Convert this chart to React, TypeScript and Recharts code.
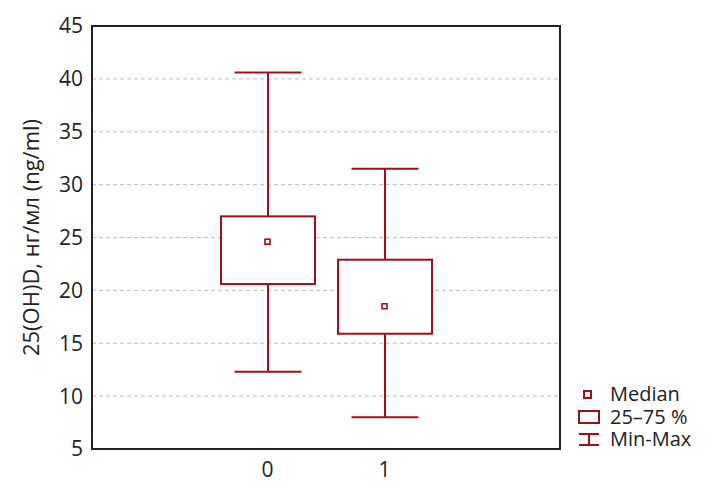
import React from "react";
import {
  ComposedChart,
  Bar,
  Scatter,
  XAxis,
  YAxis,
  CartesianGrid,
  ReferenceArea,
} from "recharts";

// group codes on the x axis
const groups = [0, 1];
// box-plot stats per group
const minValues = [12.3, 8.0];
const q1Values = [20.6, 15.9];
const medianValues = [24.6, 18.5];
const q3Values = [27.0, 22.9];
const maxValues = [40.6, 31.5];

const yTicks = [5, 10, 15, 20, 25, 30, 35, 40, 45];
const xTicks = [0, 1];
const xDomain = [-1.5, 2.5];
const yDomain = [5, 45];

const yLabel = "25(OH)D, нг/мл (ng/ml)";
const legendItems = ["Median", "25–75 %", "Min-Max"];

const RED = "#a0101c";
const FONT = "'Open Sans', sans-serif";

const chartData = groups.map((g, i) => ({
  x: g,
  base: minValues[i],
  lower: q1Values[i] - minValues[i],
  box: q3Values[i] - q1Values[i],
  upper: maxValues[i] - q3Values[i],
  median: medianValues[i],
}));

const CAP = 67;

const LowerWhisker = (props: any) => {
  const { x, y, width, height } = props;
  const cx = x + width / 2;
  return (
    <g>
      <line x1={cx} y1={y} x2={cx} y2={y + height} stroke={RED} strokeWidth={2} />
      <line x1={cx - CAP / 2} y1={y + height} x2={cx + CAP / 2} y2={y + height} stroke={RED} strokeWidth={2} />
    </g>
  );
};

const UpperWhisker = (props: any) => {
  const { x, y, width, height } = props;
  const cx = x + width / 2;
  return (
    <g>
      <line x1={cx} y1={y} x2={cx} y2={y + height} stroke={RED} strokeWidth={2} />
      <line x1={cx - CAP / 2} y1={y} x2={cx + CAP / 2} y2={y} stroke={RED} strokeWidth={2} />
    </g>
  );
};

const BoxShape = (props: any) => {
  const { x, y, width, height } = props;
  return <rect x={x} y={y} width={width} height={height} fill="#fff" stroke={RED} strokeWidth={2} />;
};

const MedianShape = (props: any) => {
  const { cx, cy } = props;
  return <rect x={cx - 2.5} y={cy - 2.5} width={5} height={5} fill="#fff" stroke={RED} strokeWidth={1.6} />;
};

const YLabel = (props: any) => {
  const vb = props.viewBox || {};
  const cy = vb.y + vb.height / 2;
  const cx = 30;
  return (
    <text
      x={cx}
      y={cy}
      transform={`rotate(-90 ${cx} ${cy})`}
      textAnchor="middle"
      dominantBaseline="central"
      fontFamily={FONT}
      fontSize={22}
      fill="#222"
    >
      {yLabel}
    </text>
  );
};

const ChartLegend = () => (
  <div
    style={{
      position: "absolute",
      left: 576,
      top: 383,
      fontFamily: FONT,
      fontSize: 20,
      color: "#222",
    }}
  >
    {legendItems.map((name, i) => (
      <div key={name} style={{ display: "flex", alignItems: "center", height: 22.5 }}>
        <svg width={26} height={22} style={{ marginRight: 8 }}>
          {i === 0 && <rect x={8} y={8} width={7} height={7} fill="#fff" stroke={RED} strokeWidth={2} />}
          {i === 1 && <rect x={3} y={5} width={20} height={12} fill="#fff" stroke={RED} strokeWidth={2} />}
          {i === 2 && (
            <g stroke={RED} strokeWidth={2}>
              <line x1={3} y1={6} x2={23} y2={6} />
              <line x1={13} y1={6} x2={13} y2={17} />
              <line x1={3} y1={17} x2={23} y2={17} />
            </g>
          )}
        </svg>
        <span style={{ lineHeight: 1 }}>{name}</span>
      </div>
    ))}
  </div>
);

export default function App() {
  return (
    <div style={{ position: "absolute", left: 0, top: 0, width: 708, height: 492, background: "#fff" }}>
      <ComposedChart
        width={708}
        height={492}
        data={chartData}
        margin={{ top: 26, right: 148, left: 0, bottom: 0 }}
        barSize={94}
      >
        <CartesianGrid vertical={false} stroke="#bdbdbd" strokeDasharray="4 3" />
        <XAxis
          dataKey="x"
          type="number"
          domain={xDomain}
          ticks={xTicks}
          height={43}
          axisLine={{ stroke: "#222", strokeWidth: 2 }}
          tickLine={false}
          tickSize={6}
          tickMargin={7}
          tick={{ fontFamily: FONT, fontSize: 21, fill: "#222" }}
        />
        <YAxis
          type="number"
          domain={yDomain}
          allowDataOverflow
          ticks={yTicks}
          width={92}
          axisLine={{ stroke: "#222", strokeWidth: 2 }}
          tickLine={false}
          tickSize={6}
          tickMargin={3}
          tick={{ fontFamily: FONT, fontSize: 21, fill: "#222" }}
          label={<YLabel />}
        />
        <Bar dataKey="base" stackId="b" fill="none" isAnimationActive={false} />
        <Bar dataKey="lower" stackId="b" shape={<LowerWhisker />} isAnimationActive={false} />
        <Bar dataKey="box" stackId="b" shape={<BoxShape />} isAnimationActive={false} />
        <Bar dataKey="upper" stackId="b" shape={<UpperWhisker />} isAnimationActive={false} />
        <Scatter dataKey="median" shape={<MedianShape />} isAnimationActive={false} />
        <ReferenceArea
          x1={xDomain[0]}
          x2={xDomain[1]}
          y1={yDomain[0]}
          y2={yDomain[1]}
          fill="none"
          stroke="#222"
          strokeWidth={2}
        />
      </ComposedChart>
      <ChartLegend />
    </div>
  );
}
